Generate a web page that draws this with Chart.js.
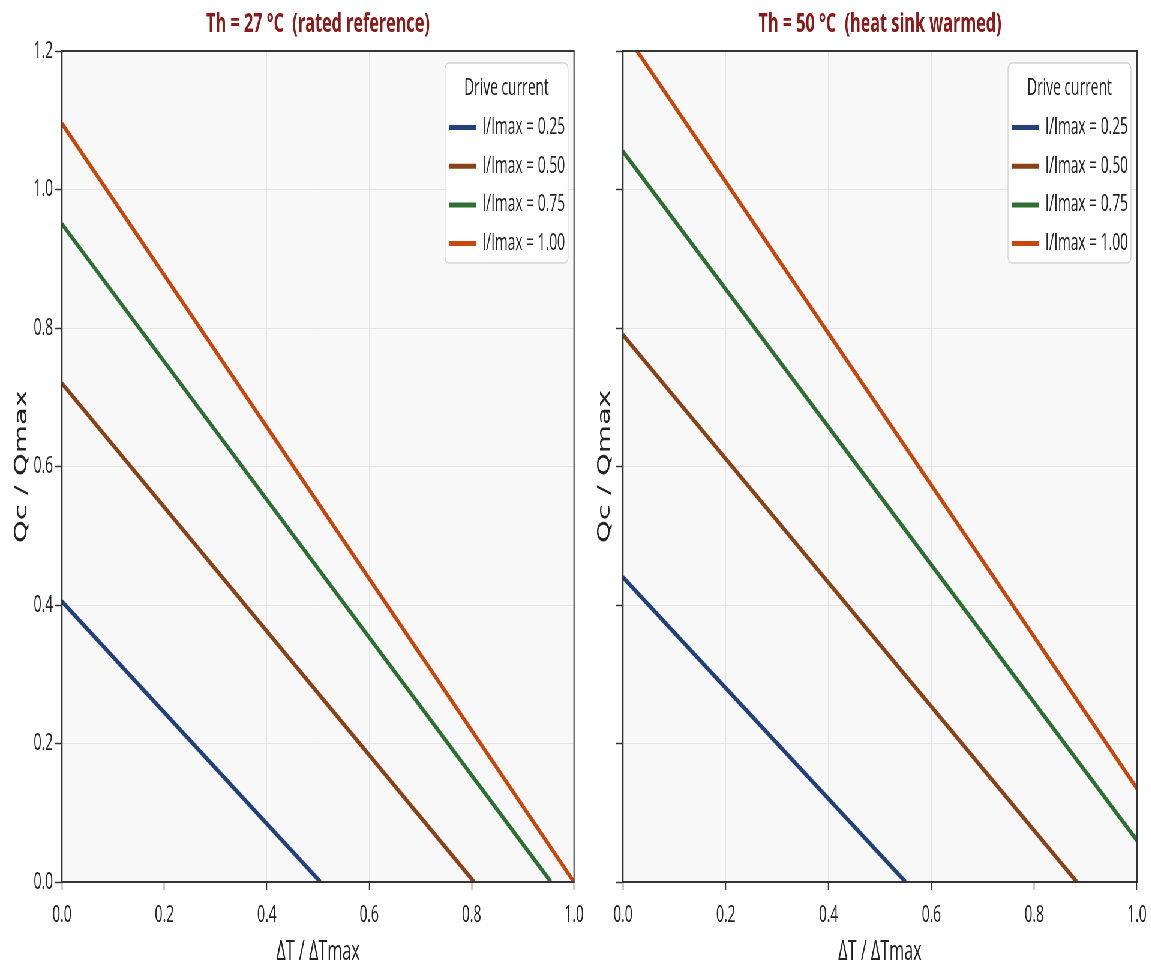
<!DOCTYPE html>
<html>
<head>
<meta charset="utf-8">
<script src="https://cdn.jsdelivr.net/npm/chart.js@4.4.1/dist/chart.umd.min.js"></script>
<style>
  html, body { margin: 0; padding: 0; background: #fff; overflow: hidden; }
  /* the reference figure is squeezed horizontally, so we draw wide and scale down */
  #stage { position: absolute; left: 0; top: 0; width: 1918.33px; height: 969px; transform: scaleX(0.6); transform-origin: 0 0; }
  .panel { position: absolute; top: 0; height: 969px; }
  #leftPanel { left: 0; width: 990px; }
  #rightPanel { left: 990px; width: 928.33px; }
</style>
</head>
<body>
<div id="stage">
  <div class="panel" id="leftPanel"><canvas id="chartLeft"></canvas></div>
  <div class="panel" id="rightPanel"><canvas id="chartRight"></canvas></div>
</div>
<script>
// ---- data ----
const seriesLabels = ['I/Imax = 0.25', 'I/Imax = 0.50', 'I/Imax = 0.75', 'I/Imax = 1.00'];
const seriesColors = ['#22407a', '#8a4318', '#2f6f34', '#c8470c'];
const panelTitles = ['Th = 27 °C  (rated reference)', 'Th = 50 °C  (heat sink warmed)'];
const xAxisTitle = 'ΔT / ΔTmax';
const yAxisTitle = 'Qc / Qmax';
const legendTitle = 'Drive current';

// end points of each line: ΔT/ΔTmax and Qc/Qmax
const th27X = [[0, 0.505], [0, 0.805], [0, 0.955], [0, 1.0]];
const th27Y = [[0.405, 0], [0.72, 0], [0.95, 0], [1.095, 0]];
const th50X = [[0, 0.55], [0, 0.883], [0, 1.0], [0, 1.0]];
const th50Y = [[0.44, 0], [0.79, 0], [1.055, 0.06], [1.23, 0.135]];

const xMin = 0, xMax = 1.0, xStep = 0.2;
const yMin = 0, yMax = 1.2, yStep = 0.2;

Chart.defaults.font.family = "'Open Sans', sans-serif";
Chart.defaults.color = '#222';

// light background + box round the plot
const plotFrame = {
  id: 'plotFrame',
  beforeDraw(chart) {
    const { ctx, chartArea: a } = chart;
    ctx.save();
    ctx.fillStyle = '#f8f8f8';
    ctx.fillRect(a.left, a.top, a.width, a.height);
    ctx.restore();
  },
  afterDatasetsDraw(chart) {
    const { ctx, chartArea: a } = chart;
    ctx.save();
    ctx.strokeStyle = '#333';
    ctx.lineWidth = 2;
    ctx.strokeRect(a.left, a.top, a.width, a.height);
    ctx.restore();
  }
};

// legend box inside the top right corner of the plot
const insideLegend = {
  id: 'insideLegend',
  afterDraw(chart, args, opts) {
    const { ctx, chartArea: a } = chart;
    const w = 205, h = 200;
    const x = a.right - 10 - w, y = a.top + 12;
    ctx.save();
    ctx.beginPath();
    ctx.roundRect(x, y, w, h, 6);
    ctx.fillStyle = 'rgba(255,255,255,0.9)';
    ctx.fill();
    ctx.strokeStyle = '#d4d4d4';
    ctx.lineWidth = 1.5;
    ctx.stroke();
    ctx.font = "23px 'Open Sans'";
    ctx.fillStyle = '#222';
    ctx.textBaseline = 'middle';
    ctx.textAlign = 'center';
    ctx.fillText(opts.title, x + w / 2, y + 25);
    ctx.textAlign = 'left';
    chart.data.datasets.forEach((ds, i) => {
      const cy = y + 64.5 + i * 38.7;
      ctx.strokeStyle = ds.borderColor;
      ctx.lineWidth = 5;
      ctx.beginPath();
      ctx.moveTo(x + 6.7, cy);
      ctx.lineTo(x + 51.7, cy);
      ctx.stroke();
      ctx.fillText(ds.label, x + 62, cy);
    });
    ctx.restore();
  }
};

function makeChart(canvasId, title, xs, ys, yAxisWidth, yTitlePad, showYLabels, padRight) {
  const datasets = seriesLabels.map((label, i) => ({
    label: label,
    data: xs[i].map((x, j) => ({ x: x, y: ys[i][j] })),
    borderColor: seriesColors[i],
    backgroundColor: seriesColors[i],
    borderWidth: 5,
    pointRadius: 0,
    tension: 0,
    fill: false
  }));

  return new Chart(document.getElementById(canvasId), {
    type: 'line',
    data: { datasets: datasets },
    plugins: [plotFrame, insideLegend],
    options: {
      responsive: true,
      maintainAspectRatio: false,
      animation: false,
      layout: { padding: { left: 0, right: padRight, top: 0, bottom: 0 } },
      scales: {
        x: {
          type: 'linear',
          min: xMin,
          max: xMax,
          afterFit: (scale) => {
            scale.height = 87;
            scale.paddingLeft = 0;
            scale.paddingRight = 0;
          },
          ticks: {
            stepSize: xStep,
            padding: 12,
            font: { size: 23 },
            maxRotation: 0,
            callback: (v) => v.toFixed(1)
          },
          grid: { color: '#e3e3e3', lineWidth: 1, tickColor: '#333', tickLength: 8, tickWidth: 1.5 },
          border: { color: '#333', width: 2 },
          title: {
            display: true,
            text: xAxisTitle,
            font: { size: 27 },
            color: '#222',
            padding: { top: 2, bottom: 0 }
          }
        },
        y: {
          type: 'linear',
          min: yMin,
          max: yMax,
          afterFit: (scale) => {
            scale.width = yAxisWidth;
            scale.paddingTop = 0;
            scale.paddingBottom = 0;
          },
          ticks: {
            display: showYLabels,
            stepSize: yStep,
            padding: 3,
            font: { size: 23 },
            callback: (v) => v.toFixed(1)
          },
          grid: { color: '#e3e3e3', lineWidth: 1, tickColor: '#333', tickLength: 12, tickWidth: 1.5 },
          border: { color: '#333', width: 2 },
          title: {
            display: true,
            text: yAxisTitle,
            font: { family: "'DejaVu Sans', sans-serif", size: 29 },
            color: '#222',
            padding: { top: yTitlePad, bottom: 0 }
          }
        }
      },
      plugins: {
        legend: { display: false },
        tooltip: { enabled: false },
        insideLegend: { title: legendTitle },
        title: {
          display: true,
          text: title,
          fullSize: false,
          color: '#8b1a1a',
          font: { size: 27, weight: 'bold' },
          padding: { top: 7.8, bottom: 10.8 }
        }
      }
    }
  });
}

makeChart('chartLeft', panelTitles[0], th27X, th27Y, 103.3, 19.3, true, 33.3);
makeChart('chartRight', panelTitles[1], th50X, th50Y, 48.3, 0.9, false, 23.3);
</script>
</body>
</html>
